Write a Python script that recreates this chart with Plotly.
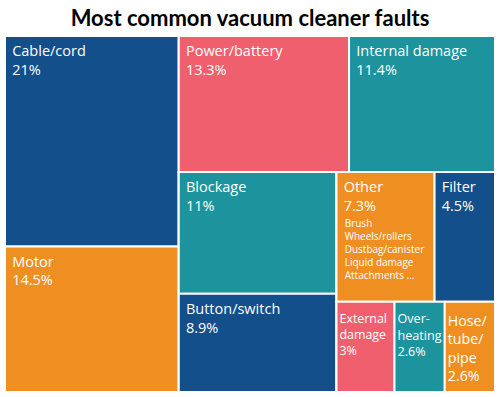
import plotly.graph_objects as go

# Data
categories = ["Cable/cord", "Motor", "Power/battery", "Internal damage", "Blockage",
              "Button/switch", "Other", "Filter", "External damage", "Over-heating",
              "Hose/tube/pipe"]
values = [21, 14.5, 13.3, 11.4, 11, 8.9, 7.3, 4.5, 3, 2.6, 2.6]
value_labels = ["21%", "14.5%", "13.3%", "11.4%", "11%", "8.9%", "7.3%", "4.5%", "3%", "2.6%", "2.6%"]
display_lines = [["Cable/cord"], ["Motor"], ["Power/battery"], ["Internal damage"], ["Blockage"],
                 ["Button/switch"], ["Other"], ["Filter"], ["External", "damage"],
                 ["Over-", "heating"], ["Hose/", "tube/", "pipe"]]
other_items = ["Brush", "Wheels/rollers", "Dustbag/canister", "Liquid damage", "Attachments ..."]

BLUE = "#134f8b"
ORANGE = "#ef8f22"
PINK = "#ef5f6e"
TEAL = "#1d939d"
tile_colors = [BLUE, ORANGE, PINK, TEAL, TEAL, BLUE, ORANGE, BLUE, PINK, TEAL, ORANGE]

# hierarchy used only to reproduce the tiling arrangement
cat_parents = ["A", "A", "B1", "B1", "B2a", "B2a", "R1", "R1", "R2", "R2", "R2"]
groups = ["root", "A", "B", "B1", "B2", "B2a", "B2b", "R1", "R2"]
group_parents = ["", "root", "root", "B", "B", "B2", "B2", "B2b", "B2b"]

ids = groups + categories
parents = group_parents + cat_parents
vals = [0] * len(groups) + values
colors = ["white"] * len(groups) + tile_colors

NB = "\u00a0"
small_tiles = {"External damage", "Over-heating", "Hose/tube/pipe"}


def span(px, s):
    return "<span style='font-size:%dpx'>%s</span>" % (px, s)


texts = [""] * len(groups)
for cat, lines, vl in zip(categories, display_lines, value_labels):
    all_lines = lines + [vl]
    if cat in small_tiles:
        out = [all_lines[0] + span(20, NB)] + all_lines[1:]
    else:
        out = [span(16, NB) + s for s in all_lines]
    texts.append("<br>".join(out))

# second, transparent layer carrying the small "Other" breakdown list
texts2 = [""] * len(groups)
for cat in categories:
    if cat == "Other":
        texts2.append("<br>".join([span(12, NB), NB, NB] + [NB + NB + s for s in other_items]))
    else:
        texts2.append("")

common = dict(
    ids=ids,
    labels=[""] * len(groups) + categories,
    parents=parents,
    values=vals,
    branchvalues="remainder",
    texttemplate="%{text}",
    textposition="top left",
    tiling=dict(packing="slice-dice", pad=0),
    pathbar=dict(visible=False),
    hoverinfo="skip",
    sort=False,
)

fig = go.Figure()
fig.add_trace(go.Treemap(
    text=texts,
    textfont=dict(family="Open Sans", size=14.5, color="white"),
    marker=dict(colors=colors, line=dict(color="white", width=2),
                pad=dict(t=0, l=0, r=0, b=0)),
    **common,
))
fig.add_trace(go.Treemap(
    text=texts2,
    textfont=dict(family="Open Sans", size=10, color="white"),
    marker=dict(colors=["rgba(0,0,0,0)"] * len(ids), line=dict(color="rgba(0,0,0,0)", width=0),
                pad=dict(t=0, l=0, r=0, b=0)),
    **common,
))

fig.update_layout(
    width=500, height=397,
    margin=dict(l=5, r=5, t=36, b=5),
    title=dict(text="<b>Most common vacuum cleaner faults</b>", x=0.5, xanchor="center",
               y=0.955, yanchor="middle",
               font=dict(family="Lato", size=22, color="black")),
    paper_bgcolor="white",
)

fig.write_html("out.html", config={"displayModeBar": False},
               post_script="document.body.style.margin='0';")
